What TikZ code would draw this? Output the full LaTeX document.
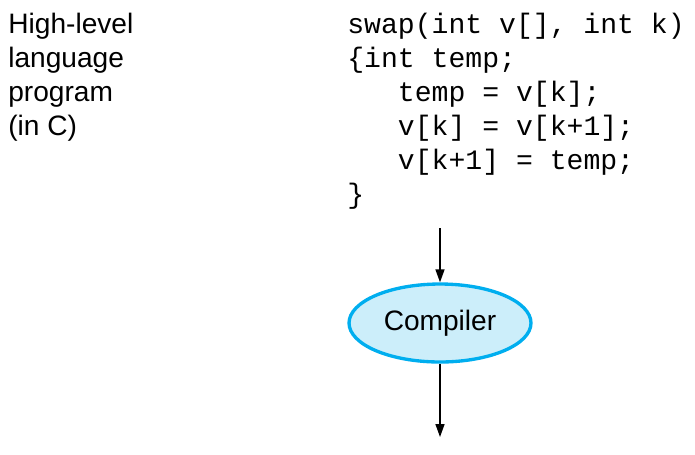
\documentclass[tikz,border=0pt]{standalone}
\usepackage{fontspec}
\setmainfont{Liberation Sans}
\setmonofont{Liberation Mono}
\usetikzlibrary{arrows.meta,positioning,shapes.geometric}
\definecolor{compline}{RGB}{0,174,239}
\definecolor{compfill}{RGB}{204,238,250}

\begin{document}
\begin{tikzpicture}[
            x=0.02cm, y=-0.02cm,
            txt/.style={font=\fontsize{16}{19.35}\selectfont, inner sep=0pt, anchor=base west},
            code/.style={font=\ttfamily\fontsize{16}{19.35}\selectfont, inner sep=0pt, anchor=base west},
            tool/.style={ellipse, draw=compline, fill=compfill, line width=1.9pt,
                         minimum width=3.64cm, minimum height=1.56cm,
                         font=\fontsize{16}{19.35}\selectfont},
            flow/.style={line width=0.85pt, -{Triangle[length=0.26cm,width=0.18cm]}},
            >=Stealth
        ]
        \useasboundingbox (0,0) rectangle (695,454);

        % last line sets the base anchor
        \node[txt, align=left] (label) at (8,135) {High-level\\language\\program\\(in C)};

        \node[code] (code1) at (347,33) {swap(int v[], int k)};
        \node[code] (code2) at (347,67) {\{int temp;};
        \node[code] (code3) at (347,101) {\phantom{xxx}temp = v[k];};
        \node[code] (code4) at (347,135) {\phantom{xxx}v[k] = v[k+1];};
        \node[code] (code5) at (347,169) {\phantom{xxx}v[k+1] = temp;};
        \node[code] (code6) at (347,203) {\}};

        \node[tool] (comp) at (440,323) {Compiler};
        \coordinate (top) at (440,228);
        \coordinate (out) at (440,437);

        \draw[flow] (top) -- (comp.north);
        \draw[flow] (comp.south) -- (out);
    \end{tikzpicture}
\end{document}
